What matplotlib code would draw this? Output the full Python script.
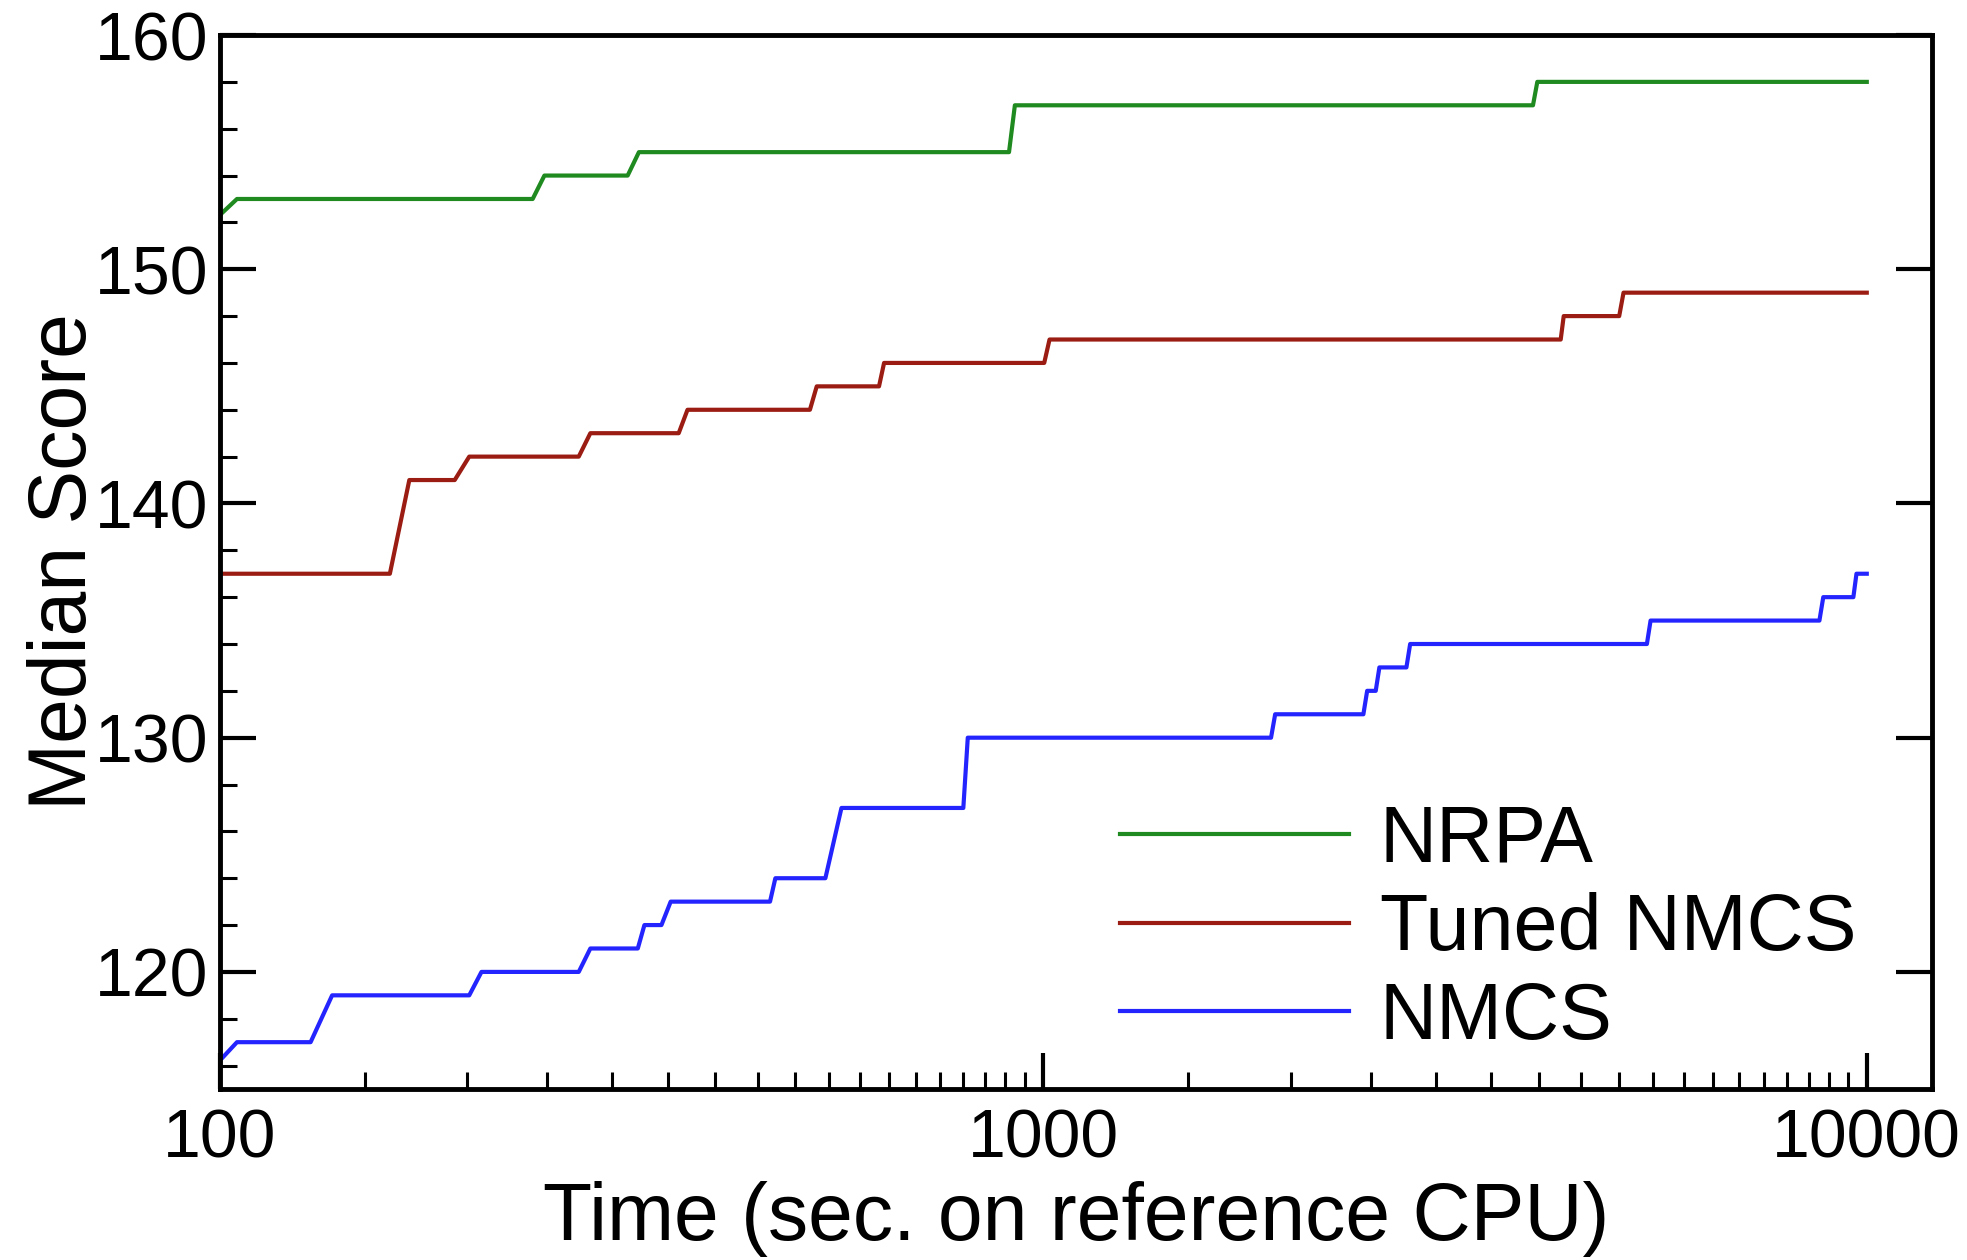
import matplotlib
matplotlib.use("Agg")
import matplotlib.pyplot as plt
import numpy as np
from matplotlib.ticker import FixedLocator, NullFormatter, FixedFormatter

plt.rcParams['font.family'] = ['Liberation Sans', 'DejaVu Sans']

# median score over time (step points)
nrpa_t = [100, 105, 240, 248, 313, 323, 909, 924, 3933, 3981, 10000]
nrpa_v = [152.3, 153, 153, 154, 154, 155, 155, 157, 157, 158, 158]

tuned_t = [100, 161, 170, 193, 201, 273, 282, 361, 370, 521, 531, 632, 641,
           1003, 1018, 4250, 4286, 5005, 5066, 10000]
tuned_v = [137, 137, 141, 141, 142, 142, 143, 143, 144, 144, 145, 145, 146,
           146, 147, 147, 148, 148, 149, 149]

nmcs_t = [100, 105, 129, 137, 201, 208, 273, 282, 322, 328, 344, 353, 466, 473,
          544, 569, 800, 810, 1891, 1913, 2448, 2474, 2534, 2560, 2761, 2790,
          5408, 5464, 8760, 8855, 9632, 9716, 10000]
nmcs_v = [116.2, 117, 117, 119, 119, 120, 120, 121, 121, 122, 122, 123, 123, 124,
          124, 127, 127, 130, 130, 131, 131, 132, 132, 133, 133, 134, 134, 135,
          135, 136, 136, 137, 137]

series = [
    (nrpa_t, nrpa_v, "NRPA", "#1f8a1f"),
    (tuned_t, tuned_v, "Tuned NMCS", "#9b1c12"),
    (nmcs_t, nmcs_v, "NMCS", "#2424ff"),
]

x_major = [100, 1000, 10000]
x_labels = ["100", "1000", "10000"]
y_major = [120, 130, 140, 150, 160]

fig = plt.figure(figsize=(19.67, 12.6), dpi=100)
ax = fig.add_axes([0.1116, 0.1357, 0.8706, 0.8365])

for t, v, name, col in series:
    ax.plot(t, v, color=col, lw=3.0, label=name)

ax.set_xscale("log")
ax.set_xlim(100, 12000)
ax.set_ylim(115, 160)

minor_x = list(np.arange(150, 1000, 50)) + list(np.arange(1500, 10000, 500))
ax.xaxis.set_major_locator(FixedLocator(x_major))
ax.xaxis.set_major_formatter(FixedFormatter(x_labels))
ax.xaxis.set_minor_locator(FixedLocator(minor_x))
ax.xaxis.set_minor_formatter(NullFormatter())
ax.yaxis.set_major_locator(FixedLocator(y_major))
ax.yaxis.set_minor_locator(FixedLocator(np.arange(116, 160, 2)))

ax.tick_params(which="both", direction="in", top=False, labelsize=49, pad=8)
ax.tick_params(axis="x", which="both", pad=13)
ax.tick_params(which="major", length=26, width=3, right=True)
ax.tick_params(which="minor", length=12, width=2.2, right=False)

for s in ax.spines.values():
    s.set_linewidth(3.5)

ax.set_xlabel("Time (sec. on reference CPU)", fontsize=58, labelpad=7)
ax.set_ylabel("Median Score", fontsize=58, labelpad=-6)

ax.legend(loc="upper left", bbox_to_anchor=(0.5694, 0.362), bbox_transform=fig.transFigure,
          frameon=False, fontsize=57, handlelength=2.89, handletextpad=0.39,
          labelspacing=0.17, borderpad=0, borderaxespad=0)

fig.savefig("out.png", dpi=100)
